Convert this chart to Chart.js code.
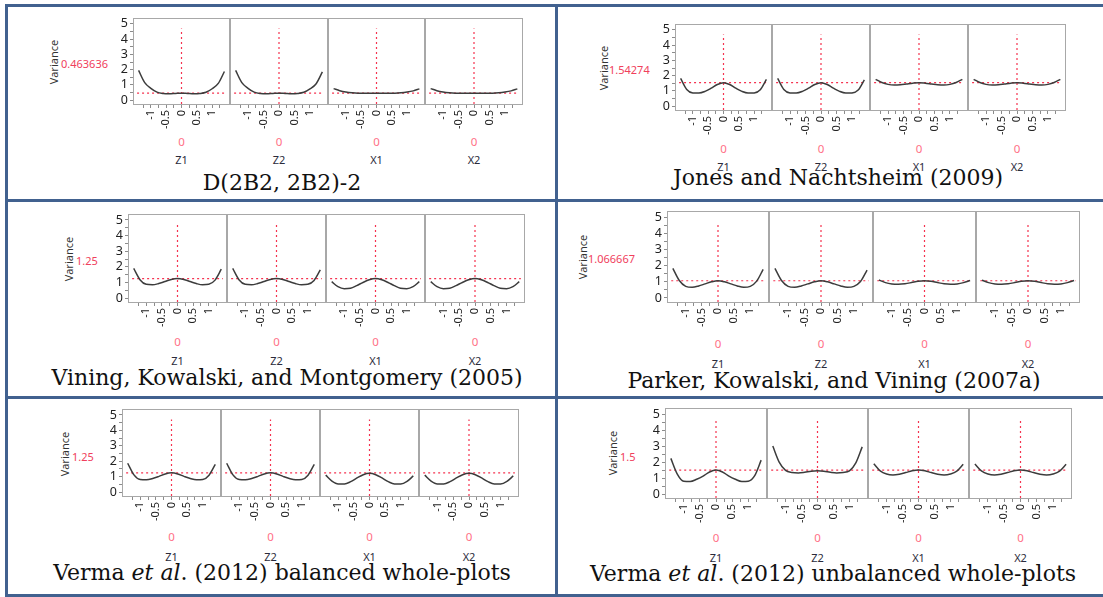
<!DOCTYPE html>
<html lang="en">
<head>
<meta charset="UTF-8">
<title>Prediction variance profiles</title>
<script src="https://cdn.jsdelivr.net/npm/chart.js"></script>
<style>
  body {
    margin: 0;
    background: #fff;
    width: 1103px;
    height: 597px;
    position: relative;
    overflow: hidden;
    font-family: "Noto Sans", sans-serif;
  }
  .rule { position: absolute; background: #41618f; }
  .abs { position: absolute; white-space: nowrap; line-height: 1; }
  canvas.panel { position: absolute; }
  .vlab { font-size: 11px; color: #333; transform: translate(-50%, -50%) rotate(-90deg); }
  .val { font-size: 11px; color: #f0405c; transform: translateY(-50%); }
  .zero { font-size: 11.5px; color: #ff6f86; transform: translate(-50%, -50%); }
  .fac { font-size: 11px; color: #2b2b3b; transform: translate(-50%, -50%); }
  .title {
    font-family: "DejaVu Serif", serif;
    font-size: 22px;
    line-height: 22px;
    color: #111;
    transform: translateX(-50%);
  }
</style>
</head>
<body>

<script>
// ---- data ----
const xGrid = [-1.4, -1.2, -1.0, -0.8, -0.6, -0.4, -0.2, 0, 0.2, 0.4, 0.6, 0.8, 1.0, 1.2, 1.4];
const factors = ['Z1', 'Z2', 'X1', 'X2'];
const factorSetting = ['0', '0', '0', '0'];
const xTickVals = [-1.25, -1, -0.75, -0.5, -0.25, 0, 0.25, 0.5, 0.75, 1, 1.25];
const xTickLabels = ['', '-1', '', '-0.5', '', '0', '', '0.5', '', '1', ''];
const yTickVals = [0, 0.5, 1, 1.5, 2, 2.5, 3, 3.5, 4, 4.5, 5];
const yTickLabels = ['0', '', '1', '', '2', '', '3', '', '4', '', '5'];

const titles = [
  'D(2B2, 2B2)-2',
  'Jones and Nachtsheim (2009)',
  'Vining, Kowalski, and Montgomery (2005)',
  'Parker, Kowalski, and Vining (2007a)',
  'Verma et al. (2012) balanced whole-plots',
  'Verma et al. (2012) unbalanced whole-plots'
];
const centerVariance = [0.463636, 1.54274, 1.25, 1.066667, 1.25, 1.5];
const varianceLabels = ['0.463636', '1.54274', '1.25', '1.066667', '1.25', '1.5'];

// D(2B2, 2B2)-2
const dZ1 = [1.95, 1.15, 0.78, 0.53, 0.44, 0.42, 0.44, 0.46, 0.44, 0.42, 0.44, 0.52, 0.75, 1.1, 1.88];
const dZ2 = [1.95, 1.15, 0.78, 0.53, 0.44, 0.42, 0.44, 0.46, 0.44, 0.42, 0.44, 0.52, 0.74, 1.08, 1.85];
const dX1 = [0.76, 0.62, 0.53, 0.48, 0.46, 0.46, 0.46, 0.46, 0.46, 0.46, 0.46, 0.48, 0.53, 0.61, 0.74];
const dX2 = [0.76, 0.62, 0.53, 0.48, 0.46, 0.46, 0.46, 0.46, 0.46, 0.46, 0.46, 0.48, 0.53, 0.61, 0.74];
// Jones and Nachtsheim (2009)
const jnZ1 = [1.82, 1.1, 0.87, 0.86, 0.97, 1.18, 1.42, 1.54, 1.42, 1.18, 0.97, 0.86, 0.87, 1.08, 1.76];
const jnZ2 = [1.82, 1.1, 0.87, 0.86, 0.97, 1.18, 1.42, 1.54, 1.42, 1.18, 0.97, 0.86, 0.87, 1.06, 1.72];
const jnX1 = [1.76, 1.55, 1.43, 1.39, 1.41, 1.46, 1.51, 1.54, 1.51, 1.46, 1.41, 1.39, 1.43, 1.55, 1.76];
const jnX2 = [1.76, 1.55, 1.43, 1.39, 1.41, 1.46, 1.51, 1.54, 1.51, 1.46, 1.41, 1.39, 1.43, 1.55, 1.76];
// Vining, Kowalski, and Montgomery (2005)
const vkmZ1 = [1.9, 1.18, 0.88, 0.85, 0.93, 1.06, 1.19, 1.25, 1.19, 1.06, 0.93, 0.85, 0.88, 1.15, 1.85];
const vkmZ2 = [1.9, 1.18, 0.88, 0.85, 0.93, 1.06, 1.19, 1.25, 1.19, 1.06, 0.93, 0.85, 0.88, 1.13, 1.8];
const vkmX1 = [1.05, 0.73, 0.6, 0.63, 0.8, 1.0, 1.17, 1.25, 1.17, 1.0, 0.8, 0.63, 0.6, 0.73, 1.05];
const vkmX2 = [1.05, 0.73, 0.6, 0.63, 0.8, 1.0, 1.17, 1.25, 1.17, 1.0, 0.8, 0.63, 0.6, 0.73, 1.05];
// Parker, Kowalski, and Vining (2007a)
const pkvZ1 = [1.83, 1.08, 0.72, 0.66, 0.74, 0.87, 1.0, 1.07, 1.0, 0.87, 0.74, 0.66, 0.72, 1.04, 1.77];
const pkvZ2 = [1.83, 1.08, 0.72, 0.66, 0.74, 0.87, 1.0, 1.07, 1.0, 0.87, 0.74, 0.66, 0.72, 1.02, 1.73];
const pkvX1 = [1.11, 0.95, 0.87, 0.85, 0.88, 0.95, 1.03, 1.07, 1.03, 0.95, 0.88, 0.85, 0.87, 0.95, 1.08];
const pkvX2 = [1.1, 0.95, 0.87, 0.85, 0.88, 0.95, 1.03, 1.07, 1.03, 0.95, 0.88, 0.85, 0.87, 0.95, 1.08];
// Verma et al. (2012) balanced whole-plots
const vbZ1 = [1.87, 1.12, 0.82, 0.8, 0.88, 1.02, 1.18, 1.25, 1.18, 1.02, 0.88, 0.8, 0.82, 1.1, 1.8];
const vbZ2 = [1.87, 1.12, 0.82, 0.8, 0.88, 1.02, 1.18, 1.25, 1.18, 1.02, 0.88, 0.8, 0.82, 1.1, 1.8];
const vbX1 = [1.1, 0.72, 0.53, 0.53, 0.68, 0.92, 1.13, 1.22, 1.13, 0.92, 0.68, 0.53, 0.53, 0.7, 1.05];
const vbX2 = [1.1, 0.72, 0.53, 0.53, 0.68, 0.92, 1.13, 1.22, 1.13, 0.92, 0.68, 0.53, 0.53, 0.7, 1.05];
// Verma et al. (2012) unbalanced whole-plots
const vuZ1 = [2.23, 1.25, 0.8, 0.78, 0.92, 1.12, 1.38, 1.5, 1.38, 1.12, 0.92, 0.78, 0.8, 1.15, 2.12];
const vuZ2 = [3.0, 2.0, 1.48, 1.35, 1.32, 1.36, 1.42, 1.45, 1.42, 1.36, 1.32, 1.35, 1.45, 1.95, 2.95];
const vuX1 = [1.9, 1.45, 1.25, 1.19, 1.24, 1.34, 1.45, 1.5, 1.45, 1.34, 1.24, 1.19, 1.25, 1.43, 1.86];
const vuX2 = [1.88, 1.45, 1.25, 1.19, 1.24, 1.34, 1.45, 1.5, 1.45, 1.34, 1.24, 1.19, 1.25, 1.43, 1.86];

const curves = [
  [dZ1, dZ2, dX1, dX2],
  [jnZ1, jnZ2, jnX1, jnX2],
  [vkmZ1, vkmZ2, vkmX1, vkmX2],
  [pkvZ1, pkvZ2, pkvX1, pkvX2],
  [vbZ1, vbZ2, vbX1, vbX2],
  [vuZ1, vuZ2, vuX1, vuX2]
];

// ---- layout (pixels) ----
const cellLayout = [
  { edges: [134, 231, 329, 426, 524], top: 19, bottom: 104, vx: 53, vy: 62, valX: 61, valY: 63, zeroY: 142, facY: 159, titleX: 282, titleY: 190 },
  { edges: [676, 773, 871, 969, 1067], top: 25, bottom: 110, vx: 603, vy: 68, valX: 609, valY: 69, zeroY: 149, facY: 166, titleX: 838, titleY: 185 },
  { edges: [129, 228, 327, 426, 526], top: 215, bottom: 302, vx: 68, vy: 259, valX: 76, valY: 260, zeroY: 342, facY: 360, titleX: 287, titleY: 385 },
  { edges: [668, 770, 874, 977, 1081], top: 212, bottom: 302, vx: 582, vy: 257, valX: 588, valY: 258, zeroY: 344, facY: 363, titleX: 834, titleY: 388 },
  { edges: [123, 222, 321, 420, 520], top: 410, bottom: 496, vx: 64, vy: 454, valX: 72, valY: 456, zeroY: 537, facY: 556, titleX: 282, titleY: 580 },
  { edges: [666, 768, 869, 970, 1073], top: 409, bottom: 498, vx: 612, vy: 453, valX: 620, valY: 456, zeroY: 538, facY: 557, titleX: 833, titleY: 581 }
];
const rules = [
  [5, 4, 1098, 3], [5, 199, 1098, 3], [5, 396, 1098, 3], [5, 594, 1098, 3],
  [5, 4, 3, 593], [555, 4, 3, 593]
];
const yMin = -0.25, yMax = 5.32, xMin = -1.55, xMax = 1.55;
const X_AXIS_H = 30, Y_AXIS_W = 24;

const framePlugin = {
  id: 'frame',
  afterDraw(chart) {
    const a = chart.chartArea, c = chart.ctx;
    c.save();
    c.strokeStyle = '#a8a8a8';
    c.lineWidth = 1;
    c.strokeRect(a.left - 0.5, a.top - 0.5, a.right - a.left + 1, a.bottom - a.top + 1);
    c.restore();
  }
};

function addText(cls, html, x, y) {
  const d = document.createElement('div');
  d.className = 'abs ' + cls;
  d.innerHTML = html;
  d.style.left = x + 'px';
  d.style.top = y + 'px';
  document.body.appendChild(d);
  return d;
}

function makePanel(c, p) {
  const lay = cellLayout[c];
  const L = lay.edges[p], R = lay.edges[p + 1] - 2;
  const yW = p === 0 ? Y_AXIS_W : 1;
  const canvas = document.createElement('canvas');
  canvas.className = 'panel';
  canvas.width = R - L + yW + 1;
  canvas.height = lay.bottom - lay.top + 1 + X_AXIS_H;
  const left = L - yW, top = lay.top - 1;
  canvas.style.left = left + 'px';
  canvas.style.top = top + 'px';
  document.body.appendChild(canvas);

  const series = curves[c][p];
  const v = centerVariance[c];
  const chart = new Chart(canvas.getContext('2d'), {
    type: 'line',
    data: {
      datasets: [
        {
          data: xGrid.map((x, i) => ({ x, y: series[i] })),
          borderColor: '#3c3c3c', borderWidth: 1.5, pointRadius: 0,
          cubicInterpolationMode: 'monotone'
        },
        {
          data: [{ x: -1.45, y: v }, { x: 1.45, y: v }],
          borderColor: '#f5324f', borderWidth: 1.2, borderDash: [2, 3], pointRadius: 0
        },
        {
          data: [{ x: 0, y: yMin }, { x: 0, y: 4.7 }],
          borderColor: '#f5324f', borderWidth: 1.2, borderDash: [2, 3], pointRadius: 0
        }
      ]
    },
    options: {
      responsive: false,
      animation: false,
      events: [],
      layout: { padding: { left: 0, right: 1, top: 1, bottom: 0 } },
      plugins: { legend: { display: false }, tooltip: { enabled: false } },
      scales: {
        x: {
          type: 'linear', min: xMin, max: xMax,
          afterBuildTicks: s => { s.ticks = xTickVals.map(t => ({ value: t })); },
          afterFit: s => { s.height = X_AXIS_H; s.paddingLeft = 0; s.paddingRight = 0; },
          ticks: {
            autoSkip: false, minRotation: 90, maxRotation: 90, padding: 2,
            color: '#222', font: { family: 'Noto Sans', size: 11 },
            callback: (val, i) => xTickLabels[i]
          },
          grid: { drawOnChartArea: false, drawTicks: true, tickLength: 4, tickColor: '#8c8c8c' },
          border: { display: false }
        },
        y: {
          type: 'linear', min: yMin, max: yMax,
          afterBuildTicks: s => { s.ticks = yTickVals.map(t => ({ value: t })); },
          afterFit: s => { s.width = yW; s.paddingTop = 0; s.paddingBottom = 0; },
          ticks: {
            display: p === 0, autoSkip: false, padding: 2,
            color: '#222', font: { family: 'Noto Sans', size: 12.5 },
            callback: (val, i) => yTickLabels[i]
          },
          grid: { drawOnChartArea: false, drawTicks: p === 0, tickLength: 4, tickColor: '#8c8c8c' },
          border: { display: false }
        }
      }
    },
    plugins: [framePlugin]
  });

  const zx = left + chart.scales.x.getPixelForValue(0);
  addText('zero', factorSetting[p], zx, lay.zeroY);
  addText('fac', factors[p], zx, lay.facY);
}

rules.forEach(([x, y, w, h]) => {
  const d = document.createElement('div');
  d.className = 'rule';
  d.style.left = x + 'px'; d.style.top = y + 'px';
  d.style.width = w + 'px'; d.style.height = h + 'px';
  document.body.appendChild(d);
});

cellLayout.forEach((lay, c) => {
  addText('vlab', 'Variance', lay.vx, lay.vy);
  addText('val', varianceLabels[c], lay.valX, lay.valY);
  for (let p = 0; p < factors.length; p++) makePanel(c, p);
  addText('title', titles[c].replace('et al.', '<i>et al</i>.'), lay.titleX, lay.titleY - 18);
});
</script>
</body>
</html>
